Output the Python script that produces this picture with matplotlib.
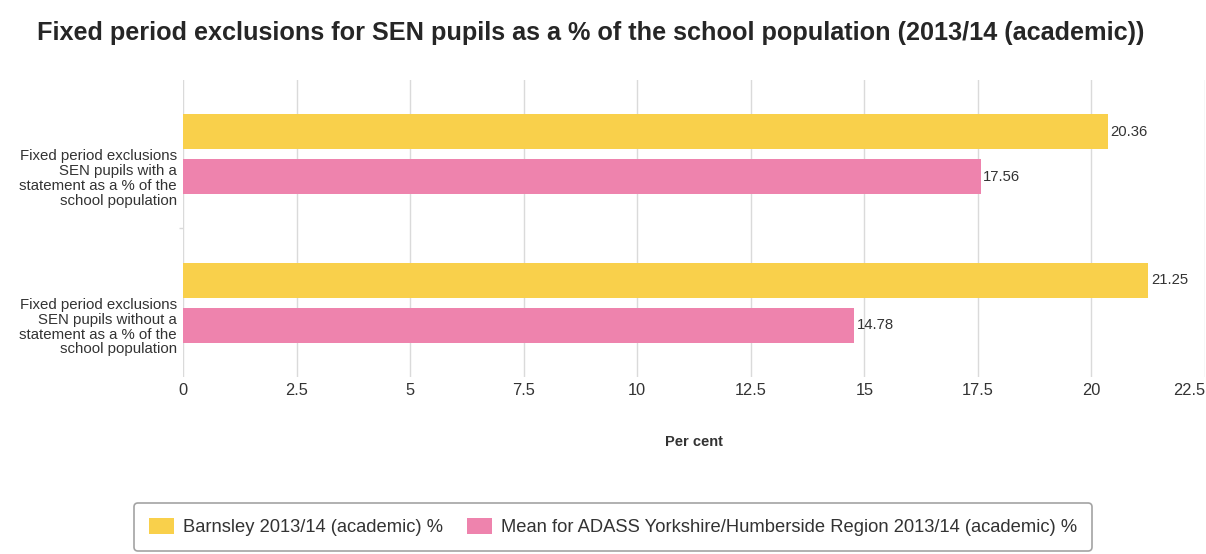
import matplotlib.pyplot as plt
import numpy as np

plt.rcParams['font.family'] = ['Liberation Sans', 'DejaVu Sans']

categories = [
    "Fixed period exclusions\nSEN pupils with a\nstatement as a % of the\nschool population",
    "Fixed period exclusions\nSEN pupils without a\nstatement as a % of the\nschool population",
]
barnsley = [20.36, 21.25]
region_mean = [17.56, 14.78]
series_names = [
    "Barnsley 2013/14 (academic) %",
    "Mean for ADASS Yorkshire/Humberside Region 2013/14 (academic) %",
]
xticks = [0, 2.5, 5, 7.5, 10, 12.5, 15, 17.5, 20, 22.5]
xtick_labels = ["0", "2.5", "5", "7.5", "10", "12.5", "15", "17.5", "20", "22.5"]

yellow = "#F9D04B"
pink = "#EE83AD"
text_col = "#333333"
grid_col = "#DADADA"

fig = plt.figure(figsize=(12.06, 5.54), dpi=100)
ax = fig.add_axes([0.1517, 0.3195, 0.8475, 0.5361])

y = np.arange(len(categories))
h = 0.236
off = 0.1515
b1 = ax.barh(y - off, barnsley, height=h, color=yellow, label=series_names[0], zorder=2)
b2 = ax.barh(y + off, region_mean, height=h, color=pink, label=series_names[1], zorder=2)

# value labels just past the end of each bar
for bars, vals in ((b1, barnsley), (b2, region_mean)):
    for bar, v in zip(bars, vals):
        ax.text(v + 0.06, bar.get_y() + bar.get_height() / 2, f"{v:.2f}",
                va="center", ha="left", fontsize=10.7, color=text_col)

ax.set_xlim(0, 22.5)
ax.set_ylim(1.5, -0.5)
ax.set_xticks(xticks)
ax.set_xticklabels(xtick_labels, fontsize=11.8, color=text_col)
# last tick label sits flush against the right edge
ax.get_xticklabels()[-1].set_horizontalalignment("right")
# category labels sit level with the second bar of each group
ax.set_yticks(y + off)
ax.set_yticklabels(categories, fontsize=10.8, color=text_col, linespacing=1.07)
ax.set_yticks([0.5], minor=True)
ax.tick_params(axis="y", which="major", length=0, pad=4.5)
ax.tick_params(axis="y", which="minor", length=3, color=grid_col, width=1)
ax.tick_params(axis="x", length=0, pad=4)

ax.grid(axis="x", color=grid_col, linewidth=1, zorder=0)
for s in ax.spines.values():
    s.set_visible(False)

ax.set_xlabel("Per cent", fontsize=10.5, fontweight="bold", color=text_col)
ax.xaxis.set_label_coords(0.5, -65 / 297)
ax.xaxis.label.set_va("center")

fig.text(0.49, 1 - 33 / 554,
         "Fixed period exclusions for SEN pupils as a % of the school population (2013/14 (academic))",
         ha="center", va="center", fontsize=18.2, fontweight="bold", color="#262626")

leg = fig.legend(loc="upper left", bbox_to_anchor=(134 / 1206, 1 - 503 / 554),
                 ncol=2, frameon=True, fancybox=True, fontsize=13.2,
                 handlelength=1.37, handleheight=1.0, handletextpad=0.5,
                 columnspacing=1.3, borderpad=0.8, borderaxespad=0)
leg.get_frame().set_edgecolor("#8C8C8C")
leg.get_frame().set_linewidth(1.2)
for t in leg.get_texts():
    t.set_color(text_col)

fig.savefig("out.png", dpi=100, facecolor="white")
